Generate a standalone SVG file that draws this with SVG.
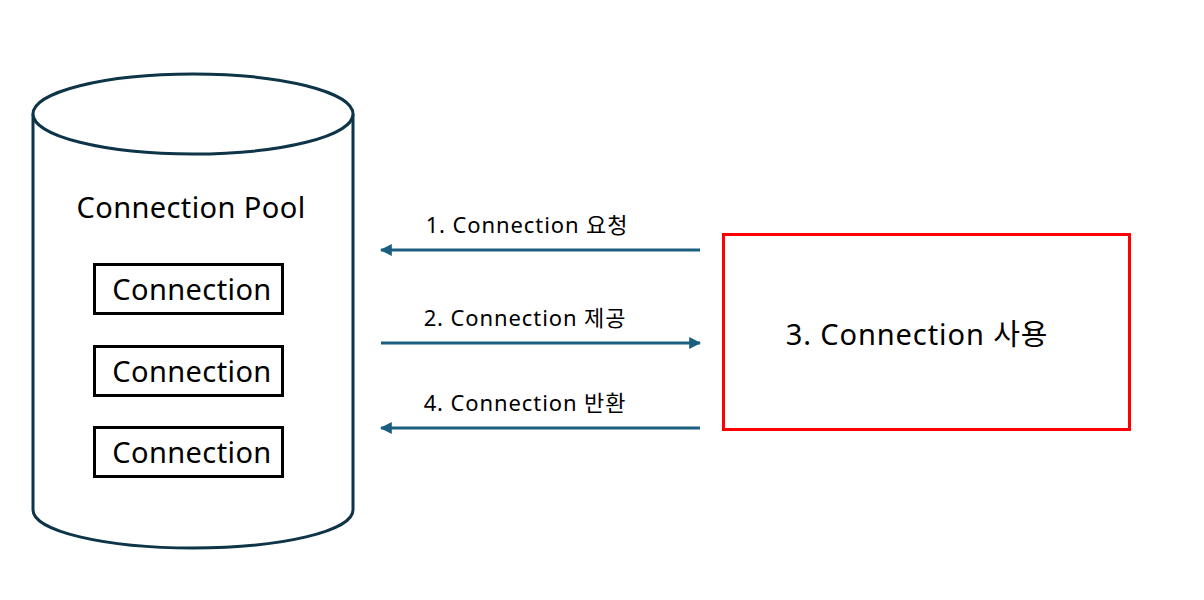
<svg xmlns="http://www.w3.org/2000/svg" width="1204" height="600" viewBox="0 0 1204 600">
<defs>
<style>
.cyl{fill:#ffffff;stroke:#0e3447;stroke-width:3}
.box{fill:#ffffff;stroke:#000000;stroke-width:3}
.red{fill:#ffffff;stroke:#ff0000;stroke-width:3}
.t{font-family:"Noto Sans","Noto Sans CJK KR",sans-serif;fill:#000000}
.big{font-size:29px;letter-spacing:0.4px}
.lbl{font-size:22px;letter-spacing:0.9px}
.conn{stroke:#1a5e80;stroke-width:3;fill:none}
</style>
<marker id="ah" viewBox="0 0 10 10" refX="9" refY="5" markerWidth="4" markerHeight="4" orient="auto" markerUnits="strokeWidth">
<path d="M0,0 L10,5 L0,10 z" fill="#1a5e80"/>
</marker>
</defs>
<rect width="1204" height="600" fill="#ffffff"/>
<g id="pool">
<path class="cyl" d="M33,114 L33,510 A160,38 0 0 0 353,510 L353,114"/>
<ellipse class="cyl" cx="193" cy="114" rx="160" ry="40"/>
<text class="t big" x="191" y="218" text-anchor="middle">Connection Pool</text>
</g>
<g id="conn1">
<rect class="box" x="94.5" y="264.5" width="188" height="49"/>
<text class="t big" x="192" y="300" text-anchor="middle">Connection</text>
</g>
<g id="conn2">
<rect class="box" x="94.5" y="346.5" width="188" height="49"/>
<text class="t big" x="192" y="382" text-anchor="middle">Connection</text>
</g>
<g id="conn3">
<rect class="box" x="94.5" y="427.5" width="188" height="49"/>
<text class="t big" x="192" y="463" text-anchor="middle">Connection</text>
</g>
<g id="user">
<rect class="red" x="723.5" y="234.5" width="406" height="195"/>
<text class="t big" x="917" y="345" text-anchor="middle" style="letter-spacing:0.9px">3. Connection 사용</text>
</g>
<g id="connectors">
<line class="conn" x1="700" y1="250" x2="381" y2="250" marker-end="url(#ah)"/>
<line class="conn" x1="381" y1="343" x2="700" y2="343" marker-end="url(#ah)"/>
<line class="conn" x1="700" y1="428" x2="381" y2="428" marker-end="url(#ah)"/>
<text class="t lbl" x="527" y="233" text-anchor="middle">1. Connection 요청</text>
<text class="t lbl" x="525" y="326" text-anchor="middle">2. Connection 제공</text>
<text class="t lbl" x="525" y="411" text-anchor="middle">4. Connection 반환</text>
</g>
</svg>
